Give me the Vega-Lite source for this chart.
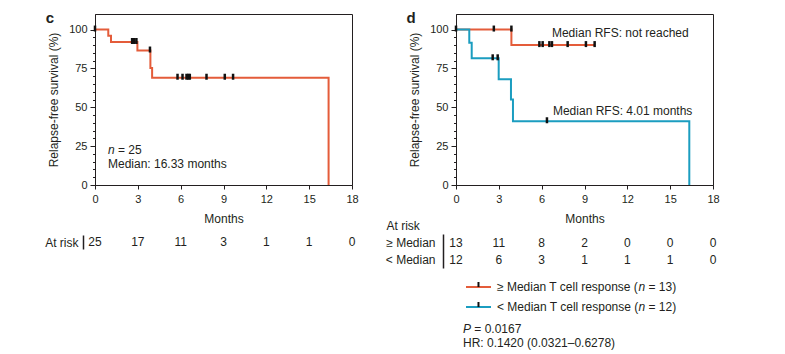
{
  "$schema": "https://vega.github.io/schema/vega-lite/v6.json",
  "padding": {"left": 44, "top": 10, "right": 5, "bottom": 5},
  "background": "white",
  "config": {
    "font": "Liberation Sans",
    "view": {"stroke": "#231f20", "strokeWidth": 1},
    "axis": {"labelFont": "Liberation Sans", "titleFont": "Liberation Sans", "labelFontSize": 11, "titleFontSize": 12, "titleFontWeight": "normal", "labelColor": "#231f20", "titleColor": "#231f20", "domainColor": "#231f20", "tickColor": "#231f20", "grid": false},
    "text": {"font": "Liberation Sans", "fontSize": 12, "color": "#231f20"}
  },
  "datasets": {
    "km": [
      {"panel": "c", "group": "All", "t": 0, "s": 100},
      {"panel": "c", "group": "All", "t": 0.93, "s": 96},
      {"panel": "c", "group": "All", "t": 1.12, "s": 92},
      {"panel": "c", "group": "All", "t": 2.97, "s": 86.5},
      {"panel": "c", "group": "All", "t": 3.88, "s": 75.3},
      {"panel": "c", "group": "All", "t": 4.0, "s": 69},
      {"panel": "c", "group": "All", "t": 16.36, "s": 69},
      {"panel": "c", "group": "All", "t": 16.36, "s": 0},
      {"panel": "d", "group": "≥ Median", "t": 0, "s": 100},
      {"panel": "d", "group": "≥ Median", "t": 3.88, "s": 90},
      {"panel": "d", "group": "≥ Median", "t": 9.71, "s": 90},
      {"panel": "d", "group": "< Median", "t": 0, "s": 100},
      {"panel": "d", "group": "< Median", "t": 0.93, "s": 91.5},
      {"panel": "d", "group": "< Median", "t": 1.1, "s": 81.5},
      {"panel": "d", "group": "< Median", "t": 2.99, "s": 68},
      {"panel": "d", "group": "< Median", "t": 3.85, "s": 55},
      {"panel": "d", "group": "< Median", "t": 3.99, "s": 41},
      {"panel": "d", "group": "< Median", "t": 16.34, "s": 41},
      {"panel": "d", "group": "< Median", "t": 16.34, "s": 0}
    ],
    "censor": [
      {"panel": "c", "t": 0, "s": 100},
      {"panel": "c", "t": 2.6, "s": 92},
      {"panel": "c", "t": 2.75, "s": 92},
      {"panel": "c", "t": 2.9, "s": 92},
      {"panel": "c", "t": 3.85, "s": 86.5},
      {"panel": "c", "t": 5.78, "s": 69},
      {"panel": "c", "t": 6.13, "s": 69},
      {"panel": "c", "t": 6.41, "s": 69},
      {"panel": "c", "t": 6.53, "s": 69},
      {"panel": "c", "t": 6.64, "s": 69},
      {"panel": "c", "t": 7.81, "s": 69},
      {"panel": "c", "t": 9.09, "s": 69},
      {"panel": "c", "t": 9.67, "s": 69},
      {"panel": "d", "t": 0, "s": 100},
      {"panel": "d", "t": 2.65, "s": 100},
      {"panel": "d", "t": 3.88, "s": 100},
      {"panel": "d", "t": 5.84, "s": 90},
      {"panel": "d", "t": 6.07, "s": 90},
      {"panel": "d", "t": 6.54, "s": 90},
      {"panel": "d", "t": 6.72, "s": 90},
      {"panel": "d", "t": 7.82, "s": 90},
      {"panel": "d", "t": 9.1, "s": 90},
      {"panel": "d", "t": 9.71, "s": 90},
      {"panel": "d", "t": 2.57, "s": 81.5},
      {"panel": "d", "t": 2.92, "s": 81.5},
      {"panel": "d", "t": 6.37, "s": 41}
    ],
    "risk": [
      {"panel": "c", "row": "At risk", "t": 0, "n": 25},
      {"panel": "c", "row": "At risk", "t": 3, "n": 17},
      {"panel": "c", "row": "At risk", "t": 6, "n": 11},
      {"panel": "c", "row": "At risk", "t": 9, "n": 3},
      {"panel": "c", "row": "At risk", "t": 12, "n": 1},
      {"panel": "c", "row": "At risk", "t": 15, "n": 1},
      {"panel": "c", "row": "At risk", "t": 18, "n": 0},
      {"panel": "d", "row": "≥ Median", "t": 0, "n": 13},
      {"panel": "d", "row": "≥ Median", "t": 3, "n": 11},
      {"panel": "d", "row": "≥ Median", "t": 6, "n": 8},
      {"panel": "d", "row": "≥ Median", "t": 9, "n": 2},
      {"panel": "d", "row": "≥ Median", "t": 12, "n": 0},
      {"panel": "d", "row": "≥ Median", "t": 15, "n": 0},
      {"panel": "d", "row": "≥ Median", "t": 18, "n": 0},
      {"panel": "d", "row": "< Median", "t": 0, "n": 12},
      {"panel": "d", "row": "< Median", "t": 3, "n": 6},
      {"panel": "d", "row": "< Median", "t": 6, "n": 3},
      {"panel": "d", "row": "< Median", "t": 9, "n": 1},
      {"panel": "d", "row": "< Median", "t": 12, "n": 1},
      {"panel": "d", "row": "< Median", "t": 15, "n": 1},
      {"panel": "d", "row": "< Median", "t": 18, "n": 0}
    ]
  },
  "hconcat": [
    {
      "vconcat": [
        {
          "width": 257, "height": 171,
          "layer": [
            {
              "data": {"name": "km"},
              "transform": [{"filter": "datum.panel == 'c'"}],
              "mark": {"type": "line", "interpolate": "step-after", "strokeWidth": 2, "color": "#e45c3a"},
              "encoding": {
                "x": {"field": "t", "type": "quantitative", "scale": {"domain": [0, 18], "nice": false}, "axis": {"values": [0, 3, 6, 9, 12, 15, 18], "tickSize": 4, "labelPadding": 4, "labelFlush": false, "title": "Months", "titlePadding": 9}},
                "y": {"field": "s", "type": "quantitative", "scale": {"domain": [0, 110], "nice": false}, "axis": {"values": [0, 25, 50, 75, 100], "tickSize": 5, "labelPadding": 3, "title": "Relapse-free survival (%)", "titlePadding": 8}}
              }
            },
            {
              "data": {"name": "censor"},
              "transform": [{"filter": "datum.panel == 'c'"}],
              "mark": {"type": "tick", "orient": "vertical", "size": 6, "thickness": 2.5, "color": "#111111", "opacity": 1, "yOffset": -1},
              "encoding": {
                "x": {"field": "t", "type": "quantitative"},
                "y": {"field": "s", "type": "quantitative", "axis": {"orient": "left", "values": [5, 10, 15, 20, 30, 35, 40, 45, 55, 60, 65, 70, 80, 85, 90, 95], "tickSize": 2.5, "labels": false, "domain": false, "title": null}}
              }
            },
            {
              "data": {"values": [{"t": 0.91, "s": 22.8, "label": "n"}]},
              "mark": {"type": "text", "align": "left", "baseline": "middle", "fontStyle": "italic"},
              "encoding": {"x": {"field": "t", "type": "quantitative"}, "y": {"field": "s", "type": "quantitative", "axis": null}, "text": {"field": "label"}}
            },
            {
              "data": {"values": [{"t": 0.91, "s": 22.8, "label": "= 25"}]},
              "mark": {"type": "text", "align": "left", "baseline": "middle", "dx": 10},
              "encoding": {"x": {"field": "t", "type": "quantitative"}, "y": {"field": "s", "type": "quantitative", "axis": null}, "text": {"field": "label"}}
            },
            {
              "data": {"values": [{"t": 0.91, "s": 13.2, "label": "Median: 16.33 months"}]},
              "mark": {"type": "text", "align": "left", "baseline": "middle"},
              "encoding": {"x": {"field": "t", "type": "quantitative"}, "y": {"field": "s", "type": "quantitative", "axis": null}, "text": {"field": "label"}}
            },
            {
              "data": {"values": [{"t": -3.15, "s": 107.5, "label": "c"}]},
              "mark": {"type": "text", "align": "center", "baseline": "middle", "fontSize": 15, "fontWeight": "bold"},
              "encoding": {"x": {"field": "t", "type": "quantitative"}, "y": {"field": "s", "type": "quantitative", "axis": null}, "text": {"field": "label"}}
            }
          ],
          "resolve": {"axis": {"y": "independent"}}
        },
        {
          "width": 257, "height": 14,
          "view": {"stroke": null},
          "data": {"name": "risk"},
          "transform": [{"filter": "datum.panel == 'c'"}],
          "mark": {"type": "text", "align": "center", "baseline": "middle"},
          "encoding": {
            "x": {"field": "t", "type": "quantitative", "scale": {"domain": [0, 18], "nice": false}, "axis": null},
            "y": {"field": "row", "type": "nominal", "axis": {"domain": true, "domainWidth": 1.5, "ticks": false, "offset": 12, "labelPadding": 5, "labelFontSize": 12, "title": null}},
            "text": {"field": "n"}
          }
        }
      ],
      "spacing": 50,
      "bounds": "flush"
    },
    {
      "vconcat": [
        {
          "width": 257, "height": 171,
          "layer": [
            {
              "data": {"name": "km"},
              "transform": [{"filter": "datum.panel == 'd'"}],
              "mark": {"type": "line", "interpolate": "step-after", "strokeWidth": 2},
              "encoding": {
                "x": {"field": "t", "type": "quantitative", "scale": {"domain": [0, 18], "nice": false}, "axis": {"values": [0, 3, 6, 9, 12, 15, 18], "tickSize": 4, "labelPadding": 4, "labelFlush": false, "title": "Months", "titlePadding": 9}},
                "y": {"field": "s", "type": "quantitative", "scale": {"domain": [0, 110], "nice": false}, "axis": {"values": [0, 25, 50, 75, 100], "tickSize": 5, "labelPadding": 3, "title": "Relapse-free survival (%)", "titlePadding": 8}},
                "color": {"field": "group", "type": "nominal", "scale": {"domain": ["≥ Median", "< Median"], "range": ["#e45c3a", "#1b9dc0"]}, "legend": null}
              }
            },
            {
              "data": {"name": "censor"},
              "transform": [{"filter": "datum.panel == 'd'"}],
              "mark": {"type": "tick", "orient": "vertical", "size": 6, "thickness": 2.5, "color": "#111111", "opacity": 1, "yOffset": -1},
              "encoding": {
                "x": {"field": "t", "type": "quantitative"},
                "y": {"field": "s", "type": "quantitative", "axis": {"orient": "left", "values": [5, 10, 15, 20, 30, 35, 40, 45, 55, 60, 65, 70, 80, 85, 90, 95], "tickSize": 2.5, "labels": false, "domain": false, "title": null}}
              }
            },
            {
              "data": {"values": [{"t": 6.72, "s": 97.8, "label": "Median RFS: not reached"}, {"t": 6.79, "s": 47.6, "label": "Median RFS: 4.01 months"}]},
              "mark": {"type": "text", "align": "left", "baseline": "middle"},
              "encoding": {"x": {"field": "t", "type": "quantitative"}, "y": {"field": "s", "type": "quantitative", "axis": null}, "text": {"field": "label"}}
            },
            {
              "data": {"values": [{"t": -3.15, "s": 107.5, "label": "d"}]},
              "mark": {"type": "text", "align": "center", "baseline": "middle", "fontSize": 15, "fontWeight": "bold"},
              "encoding": {"x": {"field": "t", "type": "quantitative"}, "y": {"field": "s", "type": "quantitative", "axis": null}, "text": {"field": "label"}}
            }
          ],
          "resolve": {"axis": {"y": "independent"}}
        },
        {
          "vconcat": [
            {
              "width": 257, "height": 34,
              "view": {"stroke": null},
              "data": {"name": "risk"},
              "transform": [{"filter": "datum.panel == 'd'"}],
              "mark": {"type": "text", "align": "center", "baseline": "middle"},
              "encoding": {
                "x": {"field": "t", "type": "quantitative", "scale": {"domain": [0, 18], "nice": false}, "axis": null},
                "y": {"field": "row", "type": "nominal", "scale": {"domain": ["≥ Median", "< Median"]}, "axis": {"domain": true, "domainWidth": 1.5, "ticks": false, "offset": 13, "labelPadding": 8, "labelFontSize": 12, "title": "At risk", "titleAngle": 0, "titleAlign": "left", "titleBaseline": "middle", "titleX": -57, "titleY": -9, "titleFontSize": 12}},
                "text": {"field": "n"}
              }
            },
            {
              "width": 257, "height": 42,
              "view": {"stroke": null},
              "data": {"values": [
                {"group": "≥ Median", "label": "≥ Median T cell response (", "rest": "= 13)"},
                {"group": "< Median", "label": "< Median T cell response (", "rest": "= 12)"}
              ]},
              "layer": [
                {
                  "mark": {"type": "rule", "strokeWidth": 2},
                  "encoding": {
                    "x": {"datum": 0.7, "type": "quantitative", "scale": {"domain": [0, 18], "nice": false}, "axis": null},
                    "x2": {"datum": 2.45},
                    "y": {"field": "group", "type": "nominal", "scale": {"type": "point", "padding": 0.55, "domain": ["≥ Median", "< Median"]}, "axis": null},
                    "color": {"field": "group", "type": "nominal", "scale": {"domain": ["≥ Median", "< Median"], "range": ["#e45c3a", "#1b9dc0"]}, "legend": null}
                  }
                },
                {
                  "mark": {"type": "tick", "orient": "vertical", "size": 5, "thickness": 2, "color": "#111111", "opacity": 1, "yOffset": -2.5},
                  "encoding": {
                    "x": {"datum": 1.575, "type": "quantitative"},
                    "y": {"field": "group", "type": "nominal", "axis": null}
                  }
                },
                {
                  "mark": {"type": "text", "align": "left", "baseline": "middle"},
                  "encoding": {
                    "x": {"datum": 2.87, "type": "quantitative"},
                    "y": {"field": "group", "type": "nominal", "axis": null},
                    "text": {"field": "label"}
                  }
                },
                {
                  "mark": {"type": "text", "align": "left", "baseline": "middle", "fontStyle": "italic", "dx": 141.5, "text": "n"},
                  "encoding": {
                    "x": {"datum": 2.87, "type": "quantitative"},
                    "y": {"field": "group", "type": "nominal", "axis": null}
                  }
                },
                {
                  "mark": {"type": "text", "align": "left", "baseline": "middle", "dx": 151.5},
                  "encoding": {
                    "x": {"datum": 2.87, "type": "quantitative"},
                    "y": {"field": "group", "type": "nominal", "axis": null},
                    "text": {"field": "rest"}
                  }
                }
              ]
            },
            {
              "width": 257, "height": 20,
              "view": {"stroke": null},
              "layer": [
                {
                  "data": {"values": [{"row": "p", "label": "P"}]},
                  "mark": {"type": "text", "align": "left", "baseline": "middle", "fontStyle": "italic"},
                  "encoding": {
                    "x": {"datum": 0.49, "type": "quantitative", "scale": {"domain": [0, 18], "nice": false}, "axis": null},
                    "y": {"field": "row", "type": "nominal", "scale": {"type": "point", "padding": 0.214, "domain": ["p", "hr"]}, "axis": null},
                    "text": {"field": "label"}
                  }
                },
                {
                  "data": {"values": [{"row": "p", "label": "= 0.0167"}]},
                  "mark": {"type": "text", "align": "left", "baseline": "middle", "dx": 11.3},
                  "encoding": {
                    "x": {"datum": 0.49, "type": "quantitative"},
                    "y": {"field": "row", "type": "nominal", "axis": null},
                    "text": {"field": "label"}
                  }
                },
                {
                  "data": {"values": [{"row": "hr", "label": "HR: 0.1420 (0.0321–0.6278)"}]},
                  "mark": {"type": "text", "align": "left", "baseline": "middle"},
                  "encoding": {
                    "x": {"datum": 0.49, "type": "quantitative"},
                    "y": {"field": "row", "type": "nominal", "axis": null},
                    "text": {"field": "label"}
                  }
                }
              ]
            }
          ],
          "spacing": 8,
          "bounds": "flush"
        }
      ],
      "spacing": 49,
      "bounds": "flush"
    }
  ],
  "spacing": 26,
  "align": "none"
}
